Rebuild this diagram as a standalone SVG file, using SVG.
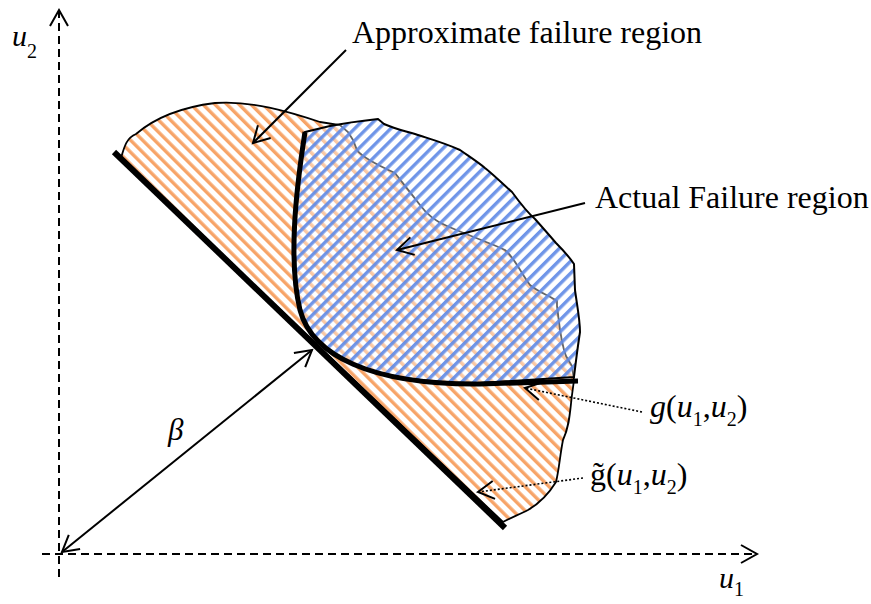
<svg xmlns="http://www.w3.org/2000/svg" width="871" height="604" viewBox="0 0 871 604">
<style>
text{font-family:"Liberation Serif","Times New Roman",serif;fill:#000}
.lbl{font-size:32px}
.it{font-style:italic}
.sub{font-size:20px}
.axis{stroke:#000;stroke-width:2;stroke-dasharray:8 5;fill:none}
.arr{stroke:#000;stroke-width:2;fill:none}
.dot{stroke:#000;stroke-width:1.6;stroke-dasharray:2 2;fill:none}
.thick{stroke:#000;fill:none;stroke-linecap:butt}
</style>
<defs>
<pattern id="po" patternUnits="userSpaceOnUse" width="8.5" height="8.5" patternTransform="rotate(-45)">
<rect x="0" y="0" width="3.4" height="8.5" fill="#f79a58" opacity="0.9"/>
</pattern>
<pattern id="pb" patternUnits="userSpaceOnUse" width="8.5" height="8.5" patternTransform="rotate(45)">
<rect x="0" y="0" width="3.4" height="8.5" fill="#5f8ae6" opacity="0.9"/>
</pattern>
<marker id="ah" markerUnits="userSpaceOnUse" viewBox="-20 -12 24 24" markerWidth="24" markerHeight="24" refX="0" refY="0" orient="auto-start-reverse" overflow="visible">
<path d="M-16,-9 L0,0 L-16,9" fill="none" stroke="#000" stroke-width="2" stroke-dasharray="none"/>
</marker>
</defs>

<g id="axes">
<line class="axis" x1="59" y1="10" x2="59" y2="578" marker-start="url(#ah)"/>
<line class="axis" x1="42" y1="554" x2="757" y2="554" marker-end="url(#ah)"/>
</g>

<g id="approx-region">
<path d="M121,158 C124,148 126,138 136,134 C150,122 175,108 215,103 C250,100 290,112 320,122 L340,125 L348,132 L353,140 L357,150 C362,157 375,164 395,173 C402,182 410,192 420,205 C428,216 437,222 447,226 C465,234 490,243 505,250 C515,258 520,272 530,285 C538,292 550,296 557,301 L557,306 C559,320 560,340 566,356 L572,366 L574,380 L572,395 C570,410 570,425 563,440 C560,455 559,470 556,482 C548,495 540,503 528,510 C518,515 510,518 503,522 Z" fill="url(#po)" stroke="#000" stroke-width="1.8"/>
</g>

<g id="actual-region">
<path d="M305,132 L330,126 C345,123 360,121 378,119 L384,124 C395,129 405,131 415,134 C430,139 445,143 460,150 C470,157 478,162 485,168 C495,176 505,186 512,192 C520,203 528,213 535,219 C543,228 550,236 556,243 C563,250 570,258 574,264 L575,290 C577,305 580,320 580,332 C578,345 576,360 574,377 L480,383 C370,384 312,355 300,310 C288,260 296,190 305,132 Z" fill="#fff" fill-opacity="0.4" stroke="none"/>
<path d="M305,132 L330,126 C345,123 360,121 378,119 L384,124 C395,129 405,131 415,134 C430,139 445,143 460,150 C470,157 478,162 485,168 C495,176 505,186 512,192 C520,203 528,213 535,219 C543,228 550,236 556,243 C563,250 570,258 574,264 L575,290 C577,305 580,320 580,332 C578,345 576,360 574,377 L480,383 C370,384 312,355 300,310 C288,260 296,190 305,132 Z" fill="url(#pb)" stroke="#000" stroke-width="2"/>
</g>

<g id="limit-lines">
<line class="thick" x1="114" y1="152" x2="505" y2="528" stroke-width="6"/>
<path class="thick" d="M305,132 C296,190 288,260 300,310 C312,355 370,385 480,384 L578,381" stroke-width="5"/>
</g>

<g id="connectors">
<line class="arr" x1="346" y1="50" x2="253" y2="143" marker-end="url(#ah)"/>
<line class="arr" x1="585" y1="203" x2="397" y2="250" marker-end="url(#ah)"/>
<line class="arr" x1="62" y1="552" x2="312" y2="350" marker-start="url(#ah)" marker-end="url(#ah)"/>
<line class="dot" x1="642" y1="412" x2="525" y2="388" marker-end="url(#ah)"/>
<line class="dot" x1="583" y1="478" x2="478" y2="492" marker-end="url(#ah)"/>
</g>

<g id="labels">
<text class="lbl" x="352" y="43">Approximate failure region</text>
<text class="lbl" x="595" y="208">Actual Failure region</text>
<text x="12" y="46"><tspan class="it" font-size="30">u</tspan><tspan class="sub" dy="12">2</tspan></text>
<text x="719" y="588"><tspan class="it" font-size="30">u</tspan><tspan class="sub" dy="8">1</tspan></text>
<text class="it" x="168" y="440" font-size="31">β</text>
<text class="lbl" x="650" y="417"><tspan class="it">g</tspan>(<tspan class="it">u</tspan><tspan class="sub" dy="9">1</tspan><tspan dy="-9">,</tspan><tspan class="it">u</tspan><tspan class="sub" dy="9">2</tspan><tspan dy="-9">)</tspan></text>
<text class="lbl" x="590" y="485">g̃(<tspan class="it">u</tspan><tspan class="sub" dy="9">1</tspan><tspan dy="-9">,</tspan><tspan class="it">u</tspan><tspan class="sub" dy="9">2</tspan><tspan dy="-9">)</tspan></text>
</g>
</svg>
